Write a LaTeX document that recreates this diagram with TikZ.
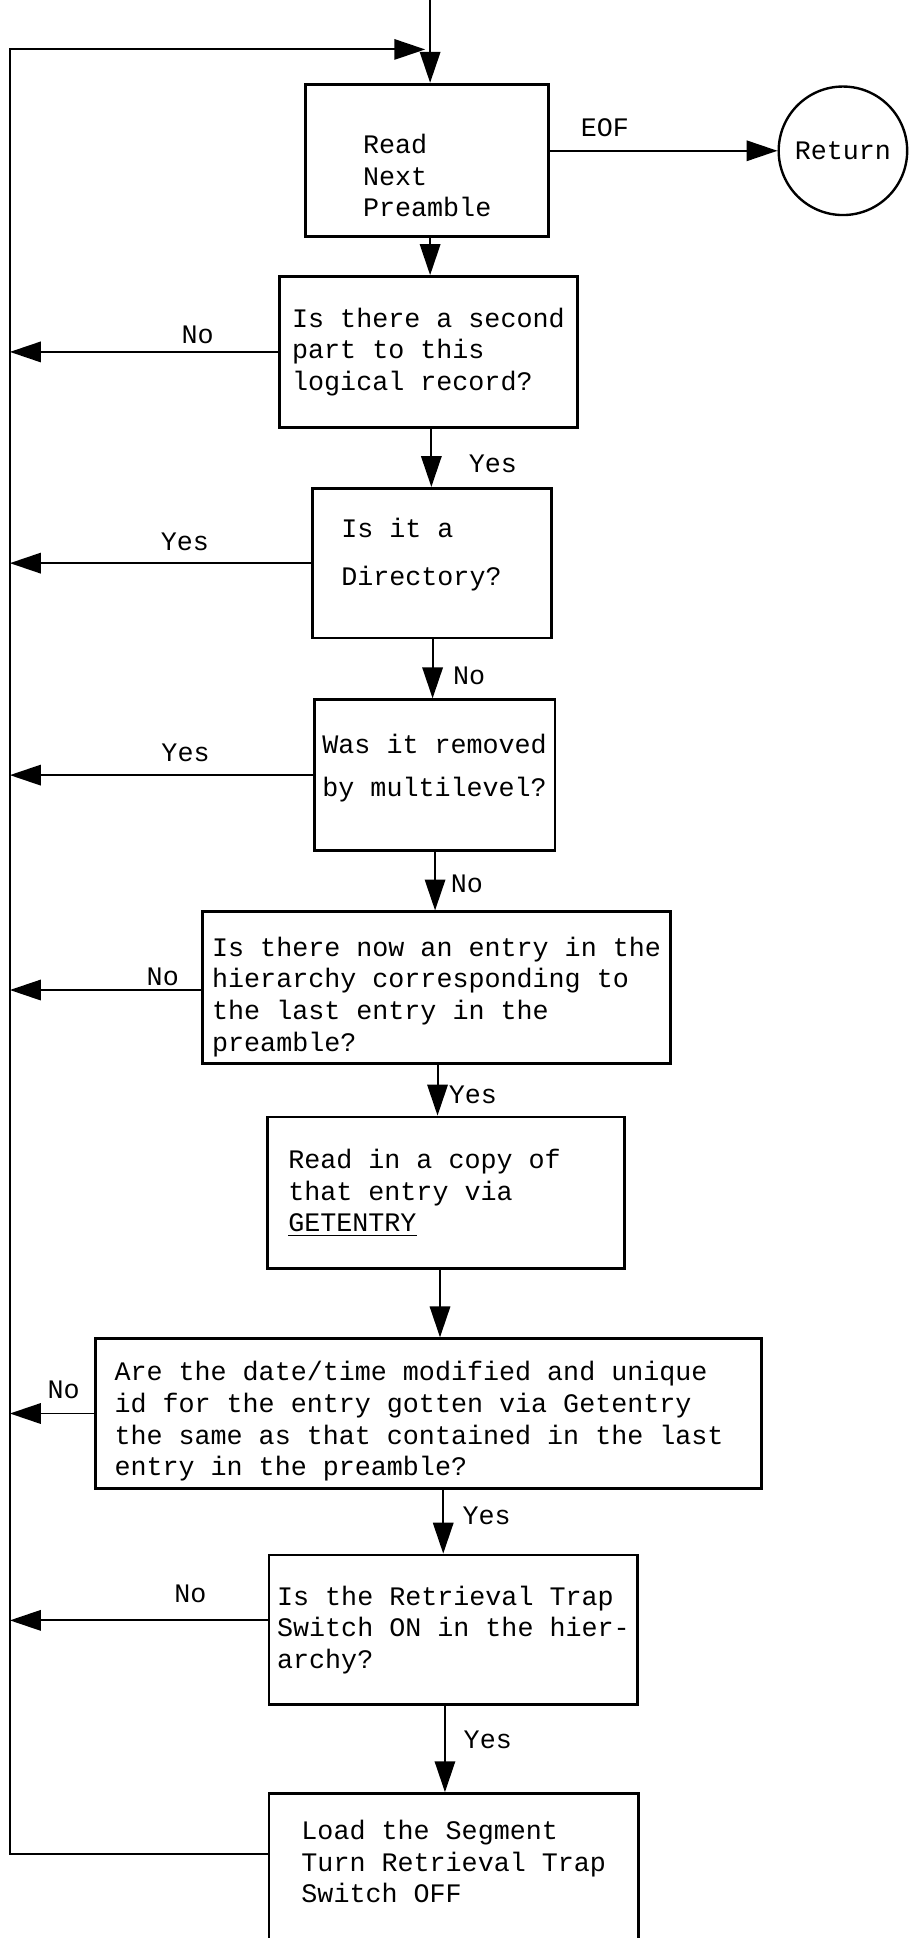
\documentclass[tikz,border=0pt]{standalone}
\usepackage{fontspec}
\setmonofont{Liberation Mono}
\usetikzlibrary{arrows.meta}
\begin{document}
\begin{tikzpicture}[x=0.02cm,y=-0.02cm,>={Triangle[length=0.5cm,width=0.33cm]},
    box/.style={draw,line width=1.3pt,anchor=north west,align=flush left,inner sep=0pt,
      font=\ttfamily\fontsize{12.3}{14.6}\selectfont},
    lbl/.style={inner sep=1pt,font=\ttfamily\fontsize{12.3}{14.6}\selectfont},
    link/.style={->,line width=0.9pt}]
    \useasboundingbox (0,0) rectangle (735,1568);

    \coordinate (start) at (348,0);
    \coordinate (rail) at (8,0);
    \coordinate (join) at (344,40);

    \node[box,minimum width=3.94cm,minimum height=2.46cm,text height=52.4pt] (read) at (246,67) {Read\\Next\\Preamble};
    \node[draw,circle,line width=1.1pt,minimum size=2.08cm,inner sep=0pt,
      font=\ttfamily\fontsize{12.3}{14.6}\selectfont] (ret) at (682,122) {Return};
    \node[box,minimum width=4.82cm,minimum height=2.44cm] (second) at (225,222.6) {Is there a second\\part to this\\logical record?};
    \node[box,minimum width=3.86cm,minimum height=2.42cm,inner xsep=0.46cm,text width=2.94cm,text depth=32.6pt] (dir) at (252,394) {Is it a\\[0.26cm]Directory?};
    \node[box,minimum width=3.90cm,minimum height=2.44cm,text height=22.3pt] (removed) at (253,565) {Was it removed\\[0.18cm]by multilevel?};
    \node[box,minimum width=7.58cm,minimum height=2.45cm,text height=61.2pt] (nowentry) at (162.6,736.6) {Is there now an entry in the\\hierarchy corresponding to\\the last entry in the\\preamble?};
    \node[box,minimum width=5.77cm,minimum height=2.45cm,inner xsep=0.33cm,text width=5.11cm] (copy) at (215.6,902.6) {Read in a copy of\\that entry via\\\underline{GETENTRY}};
    \node[box,minimum width=10.78cm,minimum height=2.42cm,inner xsep=0.31cm,text width=10.16cm,text height=16.3pt] (same) at (76,1082) {Are the date/time modified and unique\\id for the entry gotten via Getentry\\the same as that contained in the last\\entry in the preamble?};
    \node[box,minimum width=5.97cm,minimum height=2.42cm] (trap) at (216.5,1257) {Is the Retrieval Trap\\Switch ON in the hier-\\archy?};
    \node[box,minimum width=5.98cm,minimum height=2.5cm,text height=29.5pt] (load) at (216.5,1450) {Load the Segment\\Turn Retrieval Trap\\Switch OFF};

    % main line down
    \draw[link] (start) -- (start |- read.north);
    \draw[link] (read.east |- ret.west) -- node[lbl,above=4.9pt,pos=0.24]{EOF} (ret.west);
    \draw[link] (348,0 |- read.south) -- (348,0 |- second.north);
    \draw[link] (349,0 |- second.south) -- node[lbl,right=15.8pt,pos=0.6]{Yes} (349,0 |- dir.north);
    \draw[link] (350,0 |- dir.south) -- node[lbl,right=8pt,pos=0.62]{No} (350,0 |- removed.north);
    \draw[link] (352,0 |- removed.south) -- node[lbl,right=5.8pt,pos=0.54]{No} (352,0 |- nowentry.north);
    \draw[link] (354,0 |- nowentry.south) -- node[lbl,right=3.8pt,pos=0.6]{Yes} (354,0 |- copy.north);
    \draw[link] (356,0 |- copy.south) -- (356,0 |- same.north);
    \draw[link] (358.6,0 |- same.south) -- node[lbl,right=7.5pt,pos=0.41]{Yes} (358.6,0 |- trap.north);
    \draw[link] (360,0 |- trap.south) -- node[lbl,right=7.2pt,pos=0.39]{Yes} (360,0 |- load.north);

    % exits to the left
    \draw[link] (second.west) -- node[lbl,above=2.3pt,pos=0.3]{No} (second.west -| rail);
    \draw[link] (dir.west) -- node[lbl,above=4.1pt,pos=0.42]{Yes} (dir.west -| rail);
    \draw[link] (removed.west) -- node[lbl,above=4.6pt,pos=0.42]{Yes} (removed.west -| rail);
    \draw[link] (nowentry.west |- 0,801) -- node[lbl,above=0.6pt,pos=0.2]{No} (rail |- 0,801);
    \draw[link] (same.west) -- node[lbl,above=5.5pt,pos=0.36]{No} (same.west -| rail);
    \draw[link] (trap.west |- 0,1311) -- node[lbl,above=6.6pt,pos=0.3]{No} (rail |- 0,1311);

    % back to the top
    \draw[link] (load.west |- 0,1500) -- (rail |- 0,1500) -- (rail |- join) -- (join);
  \end{tikzpicture}
\end{document}
